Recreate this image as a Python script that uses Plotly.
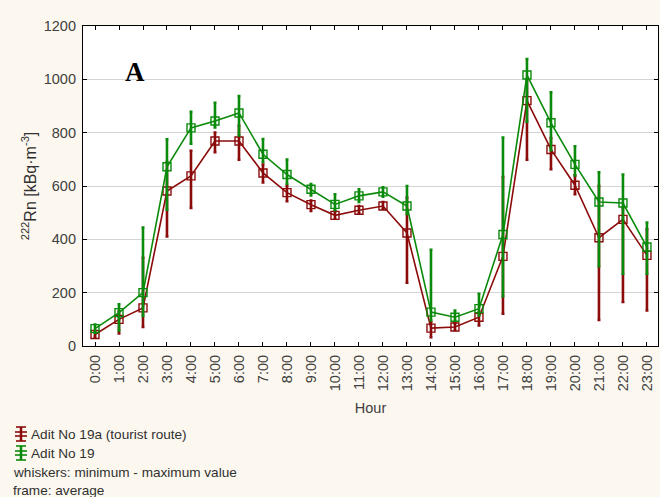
import plotly.graph_objects as go

# Hourly radon concentration, kBq/m3
hours = list(range(24))
hour_labels = [f"{h}:00" for h in hours]

adit19a_mean = [43, 100, 143, 581, 638, 769, 769, 649, 575, 530, 490, 509,
                525, 424, 67, 71, 108, 336, 920, 737, 603, 406, 475, 340]
adit19a_min = [35, 47, 71, 411, 518, 727, 699, 613, 543, 506, 478, 498,
               515, 237, 33, 60, 77, 121, 699, 663, 569, 98, 165, 133]
adit19a_max = [55, 130, 331, 690, 732, 800, 826, 680, 600, 545, 505, 525,
               540, 557, 90, 85, 125, 634, 1000, 780, 640, 600, 520, 438]

adit19_mean = [65, 125, 200, 672, 818, 844, 874, 719, 643, 588, 531, 563,
               578, 525, 127, 108, 140, 418, 1016, 837, 681, 540, 536, 371]
adit19_min = [50, 58, 113, 511, 759, 820, 790, 690, 609, 565, 510, 540,
              560, 495, 96, 95, 115, 187, 841, 734, 640, 299, 271, 271]
adit19_max = [80, 156, 444, 775, 878, 912, 937, 776, 699, 607, 569, 588,
              595, 600, 361, 133, 196, 782, 1076, 951, 749, 651, 643, 463]

y_ticks = [0, 200, 400, 600, 800, 1000, 1200]

RED = "#8b0a0a"
GREEN = "#0a8a0a"
W, H = 660, 497
M_L, M_R, M_T, M_B = 83, 2, 26, 151


def series(name, mean, lo, hi, color):
    return go.Scatter(
        x=hours, y=mean, name=name, mode="lines+markers",
        line=dict(color=color, width=1.6),
        marker=dict(symbol="square-open", size=8, color=color,
                    line=dict(width=1.4, color=color)),
        error_y=dict(type="data", symmetric=False,
                     array=[h - m for h, m in zip(hi, mean)],
                     arrayminus=[m - l for m, l in zip(mean, lo)],
                     color=color, thickness=2.6, width=1.5),
        showlegend=False,
    )


fig = go.Figure()
fig.add_trace(series("Adit No 19a (tourist route)", adit19a_mean,
                     adit19a_min, adit19a_max, RED))
fig.add_trace(series("Adit No 19", adit19_mean, adit19_min, adit19_max, GREEN))


def px_x(px):
    return (px - M_L) / (W - M_L - M_R)


def px_y(py):
    return (H - M_B - py) / (H - M_T - M_B)


shapes = []
annotations = []


# Legend keys: whisker glyph with a frame in the middle
def legend_key(cx, cy, color):
    shapes.append(dict(type="line", xref="paper", yref="paper",
                       x0=px_x(cx), x1=px_x(cx), y0=px_y(cy - 7), y1=px_y(cy + 7),
                       line=dict(color=color, width=2.5)))
    for dy, half in ((-7, 5), (7, 5), (-2, 6), (2, 6)):
        shapes.append(dict(type="line", xref="paper", yref="paper",
                           x0=px_x(cx - half), x1=px_x(cx + half),
                           y0=px_y(cy + dy), y1=px_y(cy + dy),
                           line=dict(color=color, width=1.6)))


legend_key(21, 434, RED)
legend_key(21, 453, GREEN)

legend_text = [
    (29, 434, "Adit No 19a (tourist route)"),
    (29, 453, "Adit No 19"),
    (11, 472, "whiskers: minimum - maximum value"),
    (11, 490, "frame: average"),
]
for x0, y0, txt in legend_text:
    annotations.append(dict(xref="paper", yref="paper", x=px_x(x0), y=px_y(y0),
                            xanchor="left", yanchor="middle", text=txt,
                            showarrow=False,
                            font=dict(family="Liberation Sans, Arial", size=13.6,
                                      color="#303030")))

# Panel letter
annotations.append(dict(xref="paper", yref="paper", x=px_x(135), y=px_y(72),
                        xanchor="center", yanchor="middle", text="<b>A</b>",
                        showarrow=False,
                        font=dict(family="Liberation Serif, Times New Roman",
                                  size=27, color="black")))

fig.update_layout(
    width=W, height=H,
    margin=dict(l=M_L, r=M_R, t=M_T, b=M_B),
    paper_bgcolor="#fdf8ef",
    plot_bgcolor="white",
    font=dict(family="Liberation Sans, Arial", size=13, color="#404040"),
    shapes=shapes,
    annotations=annotations,
)
fig.update_xaxes(
    range=[-0.5, 23.46], tickmode="array", tickvals=hours, ticktext=hour_labels,
    tickangle=-90, ticks="inside", ticklen=4, tickcolor="black",
    showline=True, linecolor="black", linewidth=1.2, mirror="ticks",
    showgrid=False, zeroline=False, ticklabelstandoff=2,
    tickfont=dict(size=14.5, color="#404040"),
    title=dict(text="Hour", font=dict(size=14.5, color="#404040"), standoff=12),
)
fig.update_yaxes(
    range=[0, 1200], tickmode="array", tickvals=y_ticks,
    ticks="inside", ticklen=4, tickcolor="black",
    showline=True, linecolor="black", linewidth=1.2, mirror="ticks",
    showgrid=True, gridcolor="#d4d4d4", gridwidth=1, zeroline=False,
    ticklabelstandoff=3,
    tickfont=dict(size=14.5, color="#404040"),
    title=dict(text="<sup>222</sup>Rn [kBq·m<sup>-3</sup>]",
               font=dict(size=16, color="#303030"), standoff=3),
)

fig.write_html("out.html")
